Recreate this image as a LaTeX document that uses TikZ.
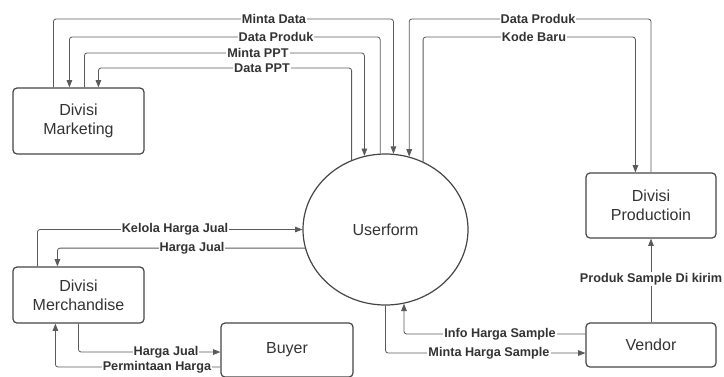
\documentclass[tikz,border=0pt]{standalone}
\usepackage{fontspec}
\setmainfont{Liberation Sans}
\usetikzlibrary{arrows.meta,calc,shapes.geometric}
\definecolor{garis}{HTML}{5A5A5A}
\definecolor{tepi}{HTML}{454545}
\begin{document}
\begin{tikzpicture}[x=0.75pt,y=-0.75pt,
	entitas/.style={draw=tepi, line width=0.9pt, rounded corners=3pt, align=center, text=black!80, font=\fontsize{12}{14.5}\selectfont},
	proses/.style={draw=tepi, line width=0.9pt, ellipse, minimum width=123.75pt, minimum height=113.25pt, inner sep=0pt, text=black!80, font=\fontsize{12}{14.5}\selectfont},
	aliran/.style={draw=garis, line width=0.6pt, rounded corners=2pt, -{Triangle[length=5.5pt,width=4.2pt]}},
	ket/.style={fill=white, inner sep=0.8pt, text=black!80, font=\fontsize{9.5}{11}\selectfont\bfseries}]
	%batas gambar
	\useasboundingbox (0,0) rectangle (724,376);
	%entitas luar dan proses
	\node [entitas, minimum width=98.25pt, minimum height=49.5pt] (marketing) at (78.5,121) {Divisi\\Marketing};
	\node [entitas, minimum width=98.25pt, minimum height=42pt] (merch) at (78.5,295) {Divisi\\Merchandise};
	\node [entitas, minimum width=99pt, minimum height=40.5pt] (buyer) at (287,350) {Buyer};
	\node [entitas, minimum width=97.5pt, minimum height=48.75pt] (prod) at (651,205.5) {Divisi\\Productioin};
	\node [entitas, minimum width=97.5pt, minimum height=33pt] (vendor) at (651,345) {Vendor};
	\node [proses] (user) at (385.5,229.5) {Userform};

	%aliran Divisi Marketing
	\draw [aliran] ($(marketing.north west)+(41,0)$) |- (200,19) -| (user.84.3);
	\draw [aliran] (user.94.2) |- (200,37) -| ($(marketing.north west)+(57,0)$);
	\draw [aliran] ($(marketing.north west)+(72,0)$) |- (200,53) -| (user.106.4);
	\draw [aliran] (user.116.7) |- (200,68) -| ($(marketing.north west)+(86,0)$);
	%aliran Divisi Productioin
	\draw [aliran] (prod.north) |- (500,19) -| (user.72.8);
	\draw [aliran] (user.61.7) |- (500,37) -| ($(prod.north west)+(50,0)$);
	\draw [aliran] (vendor.north) -- (prod.south);
	%aliran Vendor
	\draw [aliran] ($(vendor.west)+(0,-11)$) -| (user.284.1);
	\draw [aliran] (user.270.4) |- ($(vendor.west)+(0,8)$);
	%aliran Divisi Merchandise
	\draw [aliran] ($(merch.north west)+(25,0)$) |- (user.180);
	\draw [aliran] (user.193) -| ($(merch.north west)+(45,0)$);
	\draw [aliran] ($(merch.south west)+(66,0)$) |- ($(buyer.west)+(0,2)$);
	\draw [aliran] ($(buyer.west)+(0,17)$) -| ($(merch.south west)+(43,0)$);

	%keterangan aliran
	\node [ket] (k1) at (274,19) {Minta Data};
	\node [ket] (k2) at (276,37) {Data Produk};
	\node [ket] (k3) at (258,53) {Minta PPT};
	\node [ket] (k4) at (262,68) {Data PPT};
	\node [ket] (k5) at (538,19) {Data Produk};
	\node [ket] (k6) at (534,37) {Kode Baru};
	\node [ket] (k7) at (651,279) {Produk Sample Di kirim};
	\node [ket] (k8) at (500,334) {Info Harga Sample};
	\node [ket] (k9) at (489,353) {Minta Harga Sample};
	\node [ket] (k10) at (175,229) {Kelola Harga Jual};
	\node [ket] (k11) at (192,248) {Harga Jual};
	\node [ket] (k12) at (166,352) {Harga Jual};
	\node [ket] (k13) at (157,367) {Permintaan Harga};
\end{tikzpicture}
\end{document}
